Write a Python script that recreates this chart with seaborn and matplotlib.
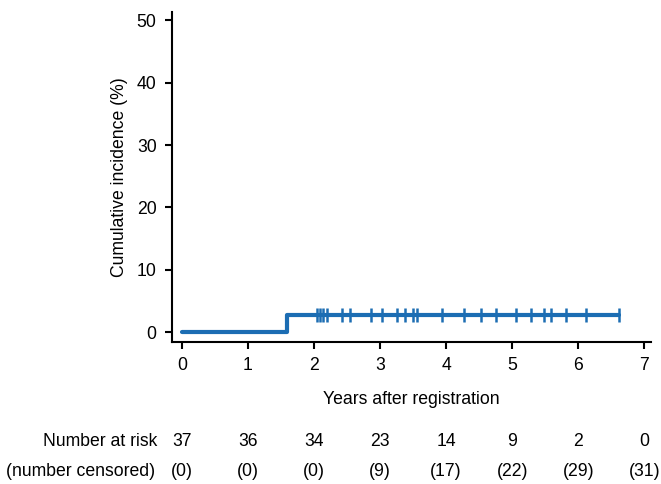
import numpy as np
import pandas as pd
import matplotlib
matplotlib.use("Agg")
import matplotlib.pyplot as plt
import matplotlib.transforms as mtransforms
import seaborn as sns

# Kurve (Stufenfunktion) und zensierte Zeitpunkte
step_years = [0.0, 1.59, 6.62]
step_incidence = [0.0, 2.7, 2.7]
censor_years = [2.04, 2.09, 2.14, 2.19, 2.42, 2.54, 2.87, 3.03, 3.26, 3.38,
                3.50, 3.56, 3.93, 4.27, 4.52, 4.75, 5.05, 5.28, 5.48, 5.58,
                5.81, 6.12, 6.62]
censor_incidence = [2.7] * len(censor_years)

# Risikotabelle
table_years = [0, 1, 2, 3, 4, 5, 6, 7]
number_at_risk = [37, 36, 34, 23, 14, 9, 2, 0]
number_censored = [0, 0, 0, 9, 17, 22, 29, 31]

sns.set_style("ticks")
plt.rcParams["font.family"] = ["Liberation Sans", "DejaVu Sans"]
plt.rcParams["font.size"] = 12.7
plt.rcParams["text.color"] = "black"
plt.rcParams["axes.labelcolor"] = "black"

blue = "#1c6db3"

fig = plt.figure(figsize=(6.61, 4.84), dpi=100)
ax = fig.add_axes([0.260, 0.293, 0.725, 0.682])

curve = pd.DataFrame({"years": step_years, "incidence": step_incidence})
sns.lineplot(data=curve, x="years", y="incidence", drawstyle="steps-post",
             color=blue, linewidth=3, ax=ax)

censored = pd.DataFrame({"years": censor_years, "incidence": censor_incidence})
sns.scatterplot(data=censored, x="years", y="incidence", marker="|", s=110,
                color=blue, linewidth=1.8, ax=ax)

ax.set_xlim(-0.15, 7.1)
ax.set_ylim(-1.6, 51.3)
ax.set_xticks(range(0, 8))
ax.set_yticks(range(0, 51, 10))
ax.set_xlabel("Years after registration", labelpad=12)
ax.set_ylabel("Cumulative incidence (%)", labelpad=6)

sns.despine(ax=ax)
for side in ["left", "bottom"]:
    ax.spines[side].set_linewidth(1.5)
    ax.spines[side].set_color("black")
ax.tick_params(width=1.5, length=5, color="black", labelcolor="black", pad=6)

# Tabelle unter der Achse
trans = mtransforms.blended_transform_factory(ax.transData, fig.transFigure)
row1_y = 1 - 442 / 484
row2_y = 1 - 471 / 484
fig.text(157 / 661, row1_y, "Number at risk", ha="right", va="center")
fig.text(155 / 661, row2_y, "(number censored)", ha="right", va="center")
for x, n, c in zip(table_years, number_at_risk, number_censored):
    ax.text(x, row1_y, str(n), transform=trans, ha="center", va="center")
    ax.text(x, row2_y, "(" + str(c) + ")", transform=trans, ha="center", va="center")

fig.savefig("out.png", dpi=100, facecolor="white")
